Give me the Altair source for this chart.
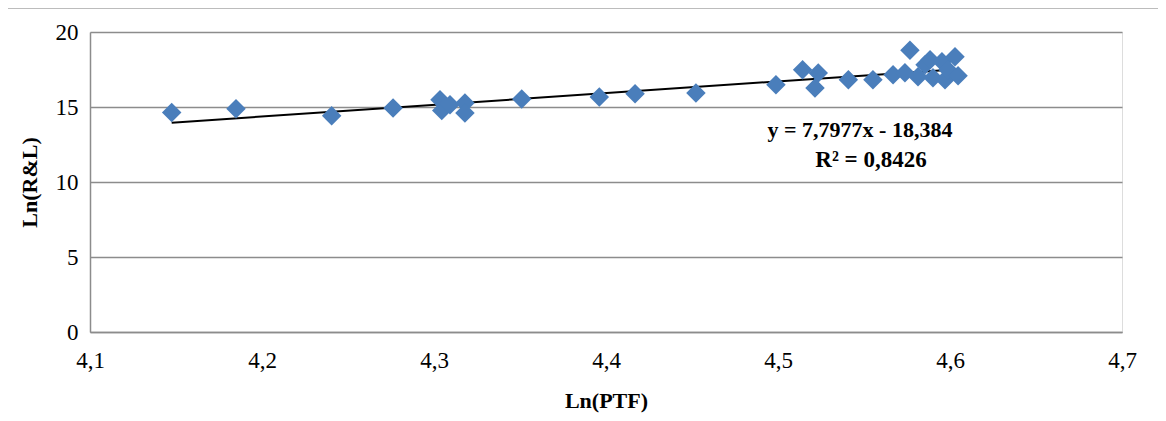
import altair as alt
import pandas as pd

# Data
ln_ptf = [4.1475, 4.1849, 4.2405, 4.2762, 4.3035, 4.3045, 4.3093, 4.3180, 4.3180,
          4.3510, 4.3961, 4.4169, 4.4523, 4.4988, 4.5143, 4.5234, 4.5215, 4.5409,
          4.5552, 4.5669, 4.5738, 4.5767, 4.5814, 4.5855, 4.5884, 4.5901, 4.5953,
          4.5971, 4.5988, 4.6029, 4.6047]
ln_rl = [14.64, 14.89, 14.42, 14.93, 15.49, 14.77, 15.15, 15.27, 14.60,
         15.53, 15.67, 15.89, 15.93, 16.49, 17.49, 17.27, 16.27, 16.82,
         16.82, 17.15, 17.29, 18.79, 17.02, 17.82, 18.15, 16.95, 18.02,
         16.82, 17.49, 18.35, 17.09]

slope = 7.7977
intercept = -18.384
eq_text = "y = 7,7977x - 18,384"
r2_text = "R² = 0,8426"

x_ticks = [4.1, 4.2, 4.3, 4.4, 4.5, 4.6, 4.7]
y_ticks = [0, 5, 10, 15, 20]

df = pd.DataFrame({"x": ln_ptf, "y": ln_rl})
trend = pd.DataFrame({"x": [min(ln_ptf), max(ln_ptf)]})
trend["y"] = slope * trend["x"] + intercept

FONT = "Liberation Serif"
GRID = "#8c8c8c"

xscale = alt.Scale(domain=[4.1, 4.7], nice=False, zero=False)
yscale = alt.Scale(domain=[0, 20], nice=False)

xaxis = alt.Axis(
    title="Ln(PTF)", values=x_ticks, labelExpr="replace(format(datum.value, '.1f'), '.', ',')",
    grid=False, ticks=False, domain=True, domainColor=GRID, domainWidth=1.5,
    labelFont=FONT, labelFontSize=23, labelColor="black", labelPadding=28,
    labelFlush=False, labelBaseline="middle",
    titleFont=FONT, titleFontSize=22, titleFontWeight="bold", titleColor="black",
    titleY=68, titleBaseline="middle",
)
yaxis = alt.Axis(
    title="Ln(R&L)", values=y_ticks, grid=True, gridColor=GRID, gridWidth=1.5,
    ticks=False, domain=True, domainColor=GRID, domainWidth=1.5,
    labelFont=FONT, labelFontSize=23, labelColor="black", labelPadding=12,
    labelFlush=False,
    titleFont=FONT, titleFontSize=22, titleFontWeight="bold", titleColor="black",
    titleX=-61, titleY=150, titleBaseline="middle",
)

points = alt.Chart(df).mark_point(
    shape="diamond", filled=True, size=380, color="#4a7ebb", opacity=1
).encode(
    x=alt.X("x:Q", scale=xscale, axis=xaxis),
    y=alt.Y("y:Q", scale=yscale, axis=yaxis),
)

line = alt.Chart(trend).mark_line(color="black", strokeWidth=2).encode(
    x=alt.X("x:Q", scale=xscale),
    y=alt.Y("y:Q", scale=yscale),
)

eq = alt.Chart(pd.DataFrame({"t": [eq_text]})).mark_text(
    font=FONT, fontSize=22, fontWeight="bold", color="black", align="center", baseline="middle"
).encode(text="t:N", x=alt.value(770), y=alt.value(98))

r2 = alt.Chart(pd.DataFrame({"t": [r2_text]})).mark_text(
    font=FONT, fontSize=23, fontWeight="bold", color="black", align="center", baseline="middle"
).encode(text="t:N", x=alt.value(781), y=alt.value(128))

frame_top = alt.Chart(pd.DataFrame({"a": [0]})).mark_rule(color="#a6a6a6", strokeWidth=1.5).encode(
    x=alt.value(-83), x2=alt.value(1080), y=alt.value(-24)
)
frame_left = alt.Chart(pd.DataFrame({"a": [0]})).mark_rule(color="#a6a6a6", strokeWidth=1.5).encode(
    x=alt.value(-83), y=alt.value(-24), y2=alt.value(395)
)

chart = alt.layer(frame_top, frame_left, line, points, eq, r2).properties(
    width=1032, height=300,
    autosize=alt.AutoSizeParams(type="none"),
    padding={"left": 82, "top": 24, "right": 36, "bottom": 81},
).configure_view(stroke=None).configure(background="white")

chart.save("out.html", embed_options={"renderer": "svg", "actions": False})
